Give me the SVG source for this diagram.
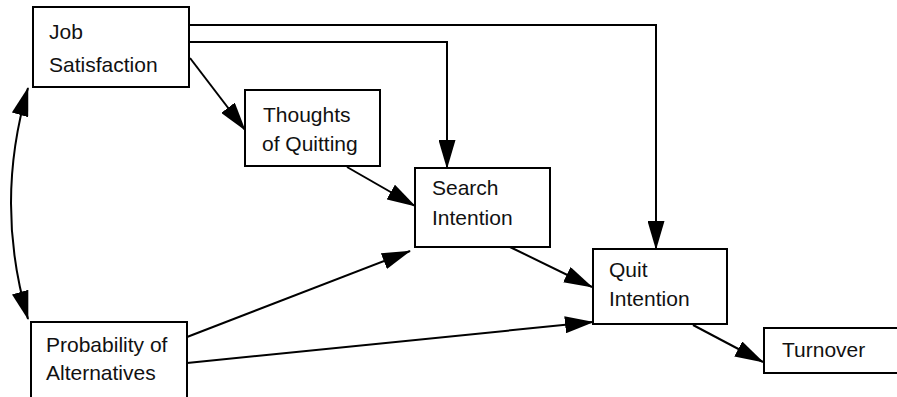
<svg xmlns="http://www.w3.org/2000/svg" width="897" height="397" viewBox="0 0 897 397">
  <style>
    .box { fill: #ffffff; stroke: #000000; stroke-width: 2; }
    .label { font-family: "Liberation Sans", Arial, sans-serif; font-size: 21px; fill: #111111; }
    .edge { fill: none; stroke: #000000; stroke-width: 2; marker-end: url(#head); }
    .both { marker-start: url(#head); }
  </style>
  <defs>
    <marker id="head" viewBox="0 0 29 17" refX="28" refY="8.5" markerWidth="29" markerHeight="17" markerUnits="userSpaceOnUse" orient="auto-start-reverse">
      <path d="M0,0 L29,8.5 L0,17 Z" fill="#000000"/>
    </marker>
  </defs>
  <rect width="897" height="397" fill="#ffffff"/>

  <g id="connectors">
    <path class="edge" d="M189,25 H656 V249"/>
    <path class="edge" d="M189,42 H447 V168"/>
    <path class="edge" d="M190,58 L245,130"/>
    <path class="edge" d="M347,167 L415,206"/>
    <path class="edge" d="M187,337 L410,251"/>
    <path class="edge" d="M187,363 L593,322"/>
    <path class="edge" d="M510,247 L592,287"/>
    <path class="edge" d="M693,325 L763,362"/>
    <path class="edge both" d="M28,88 Q-6,203 28,319"/>
  </g>

  <g id="job-satisfaction">
    <rect class="box" x="33" y="7" width="156" height="80"/>
    <text class="label" x="49" y="39">Job</text>
    <text class="label" x="49" y="72">Satisfaction</text>
  </g>

  <g id="thoughts-of-quitting">
    <rect class="box" x="245" y="90" width="135" height="76"/>
    <text class="label" x="263" y="122">Thoughts</text>
    <text class="label" x="262" y="151">of Quitting</text>
  </g>

  <g id="search-intention">
    <rect class="box" x="415" y="168" width="135" height="79"/>
    <text class="label" x="432" y="195">Search</text>
    <text class="label" x="432" y="225">Intention</text>
  </g>

  <g id="quit-intention">
    <rect class="box" x="593" y="249" width="134" height="75"/>
    <text class="label" x="609" y="277">Quit</text>
    <text class="label" x="609" y="306">Intention</text>
  </g>

  <g id="turnover">
    <rect class="box" x="764" y="328" width="150" height="45"/>
    <text class="label" x="782" y="357">Turnover</text>
  </g>

  <g id="probability-of-alternatives">
    <rect class="box" x="31" y="322" width="156" height="90"/>
    <text class="label" x="46" y="352">Probability of</text>
    <text class="label" x="46" y="380">Alternatives</text>
  </g>
</svg>
